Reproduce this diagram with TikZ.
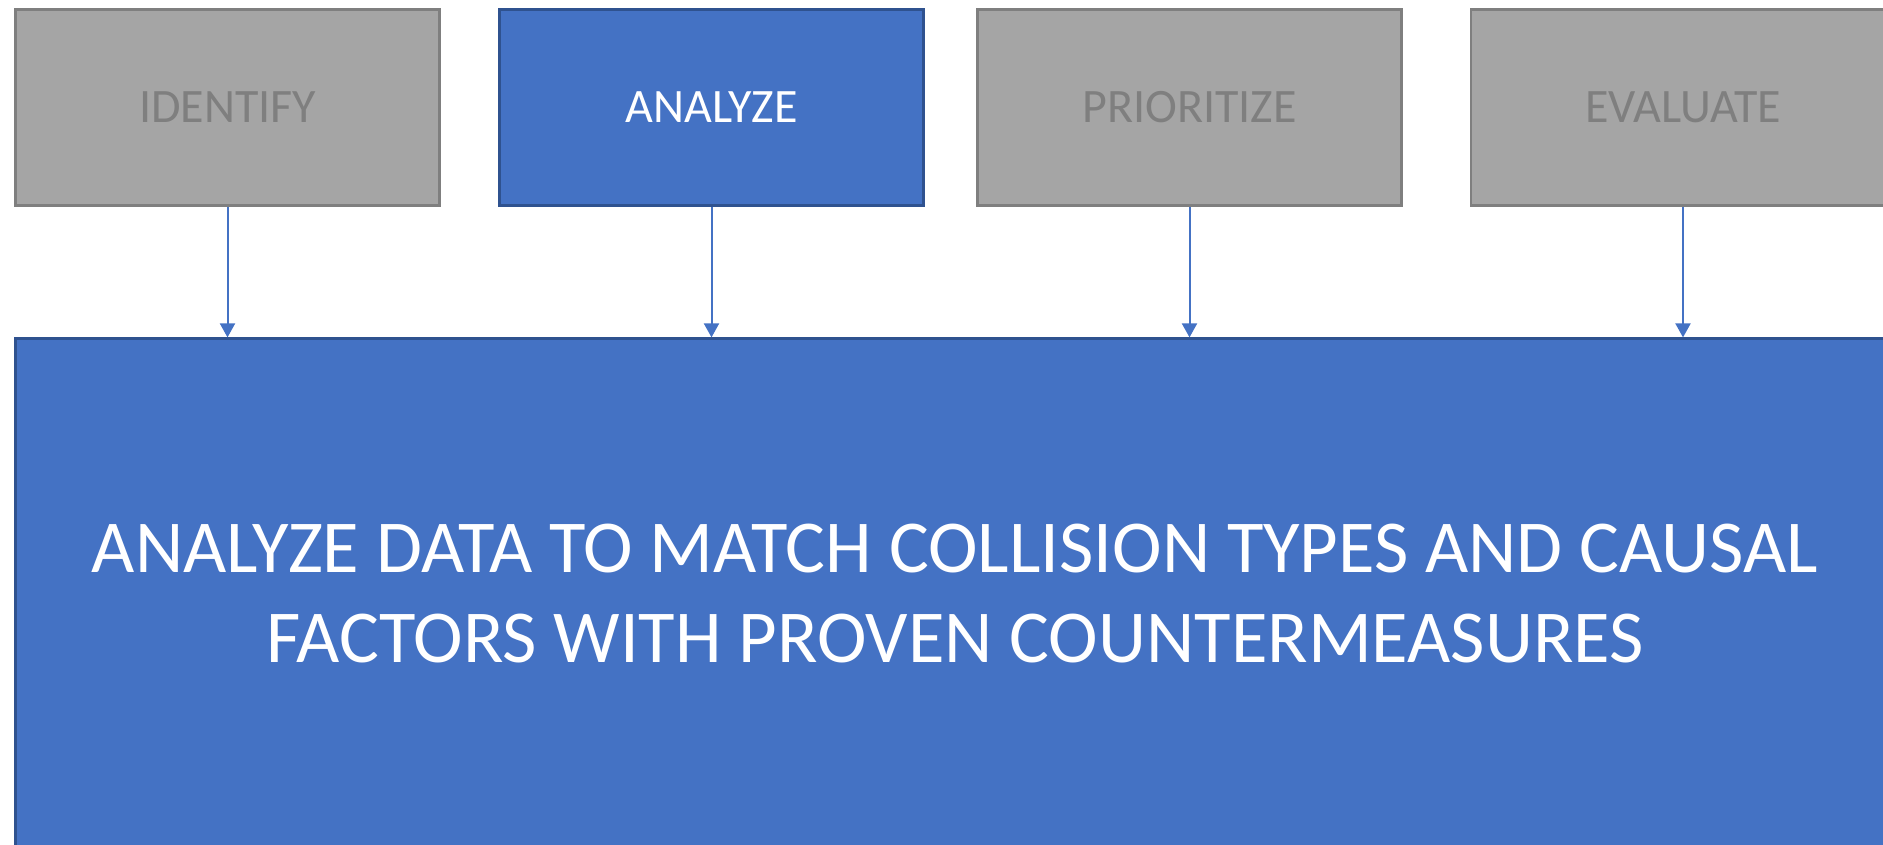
\documentclass[tikz,border=0pt]{standalone}
\usepackage{fontspec}
\setmainfont{Carlito}
\usetikzlibrary{arrows.meta}
\definecolor{boxgray}{HTML}{A5A5A5}
\definecolor{edgegray}{HTML}{7F7F7F}
\definecolor{txtgray}{HTML}{7F7F7F}
\definecolor{boxblue}{HTML}{4472C4}
\definecolor{edgeblue}{HTML}{2F528F}
\tikzset{
  topbox/.style={rectangle, minimum width=424pt, minimum height=196pt, line width=2.2pt, inner sep=0pt, font=\fontsize{48}{58}\selectfont},
  graybox/.style={topbox, fill=boxgray, draw=edgegray, text=txtgray},
  bluebox/.style={topbox, fill=boxblue, draw=edgeblue, text=white},
  bigbox/.style={rectangle, minimum width=1879pt, minimum height=511pt, line width=2.2pt, fill=boxblue, draw=edgeblue, text=white, align=center, font=\fontsize{74.7}{90}\selectfont},
  conn/.style={draw=boxblue, line width=2pt, -{Triangle[width=15pt,length=14pt]}}
}
\begin{document}
\begin{tikzpicture}[x=1pt,y=-1pt]
\clip (0,0) rectangle (1883,844);
\node[graybox] (identify) at (227.5,107.5) {\raisebox{-2pt}{IDENTIFY}};
\node[bluebox] (analyze) at (711.5,107.5) {\raisebox{-2pt}{ANALYZE}};
\node[graybox] (prioritize) at (1189.5,107.5) {\raisebox{-2pt}{PRIORITIZE}};
\node[graybox] (evaluate) at (1683,107.5) {\raisebox{-2pt}{EVALUATE}};
\node[bigbox] (big) at (955,594) {ANALYZE DATA TO MATCH COLLISION TYPES AND CAUSAL\\FACTORS WITH PROVEN COUNTERMEASURES};
\foreach \n in {identify,analyze,prioritize,evaluate}{
  \draw[conn] (\n.south) -- (\n.south |- big.north);
}
\end{tikzpicture}
\end{document}
